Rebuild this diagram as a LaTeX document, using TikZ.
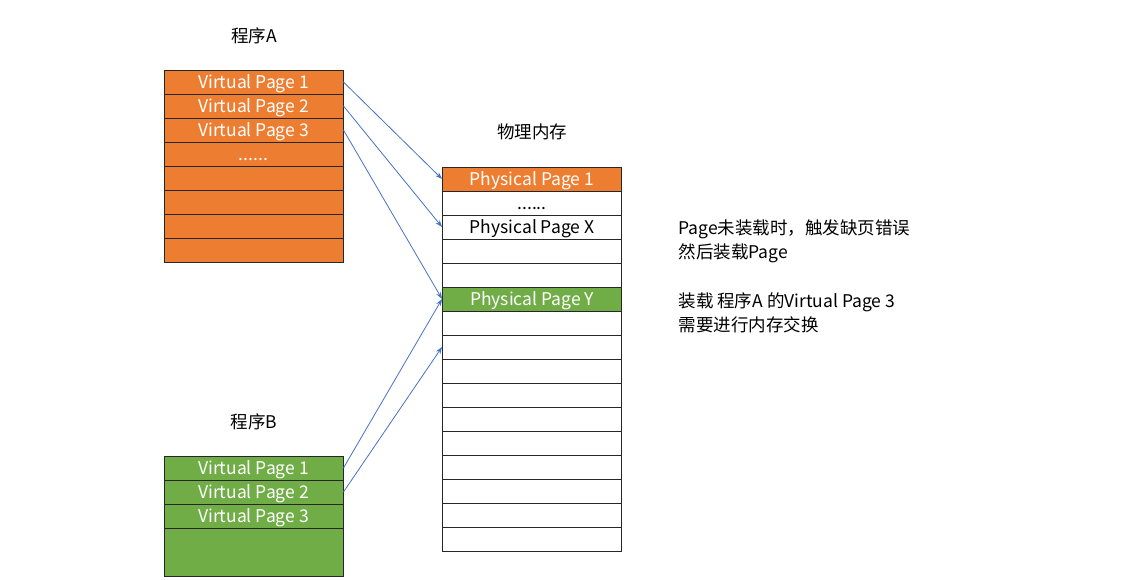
\documentclass[tikz,border=0pt]{standalone}
\usepackage{fontspec}
\setmainfont{Noto Sans CJK SC}
\usetikzlibrary{arrows.meta}

\definecolor{pgorange}{HTML}{ED7D31}
\definecolor{pggreen}{HTML}{70AD47}
\definecolor{pgblue}{HTML}{4472C4}

\tikzset{
  cell/.style={draw=black!85, line width=0.9pt, minimum width=179pt, minimum height=24pt,
    inner sep=0pt, text height=13pt, text depth=0pt, font=\fontsize{17.5}{19}\selectfont},
  acell/.style={cell, fill=pgorange, text=white},
  bcell/.style={cell, fill=pggreen, text=white},
  pcell/.style={cell, fill=white},
  title/.style={font=\fontsize{17.5}{19}\selectfont},
  note/.style={anchor=west, align=left, font=\fontsize{17.5}{24}\selectfont},
  map/.style={draw=pgblue, line width=0.8pt, -{Stealth[length=7pt,width=5pt]}}
}

\begin{document}
\begin{tikzpicture}[x=1pt,y=-1pt]
\useasboundingbox (0,0) rectangle (1142,580);

% 程序A
\node[title] (titleA) at (254,36) {程序A};
\node[acell] (a1) at (253.5,82) {Virtual Page 1};
\node[acell] (a2) at (253.5,106) {Virtual Page 2};
\node[acell] (a3) at (253.5,130) {Virtual Page 3};
\node[acell] (a4) at (253.5,154) {......};
\node[acell] (a5) at (253.5,178) {};
\node[acell] (a6) at (253.5,202) {};
\node[acell] (a7) at (253.5,226) {};
\node[acell] (a8) at (253.5,250) {};

% 程序B
\node[title] (titleB) at (254,422) {程序B};
\node[bcell] (b1) at (253.5,468) {Virtual Page 1};
\node[bcell] (b2) at (253.5,492) {Virtual Page 2};
\node[bcell] (b3) at (253.5,516) {Virtual Page 3};
\node[bcell, minimum height=48pt] (b4) at (253.5,552) {};

% 物理内存
\node[title] (titleP) at (532,132) {物理内存};
\node[pcell, fill=pgorange, text=white] (p1) at (532,179) {Physical Page 1};
\node[pcell] (p2) at (532,203) {......};
\node[pcell] (p3) at (532,227) {Physical Page X};
\node[pcell] (p4) at (532,251) {};
\node[pcell] (p5) at (532,275) {};
\node[pcell, fill=pggreen, text=white] (p6) at (532,299) {Physical Page Y};
\foreach \i in {7,...,16}
  \node[pcell] (p\i) at (532,179+24*\i-24) {};

% 映射
\draw[map] (a1.east) -- (p1.west);
\draw[map] (a2.east) -- (p3.west);
\draw[map] (a3.east) -- (p6.west);
\draw[map] (b1.east) -- (p6.west);
\draw[map] (b2.east) -- (p8.west);

% 说明
\node[note] (note1) at (675,241) {Page未装载时，触发缺页错误\\然后装载Page};
\node[note] (note2) at (675,313) {装载 程序A 的Virtual Page 3\\需要进行内存交换};
\end{tikzpicture}
\end{document}
